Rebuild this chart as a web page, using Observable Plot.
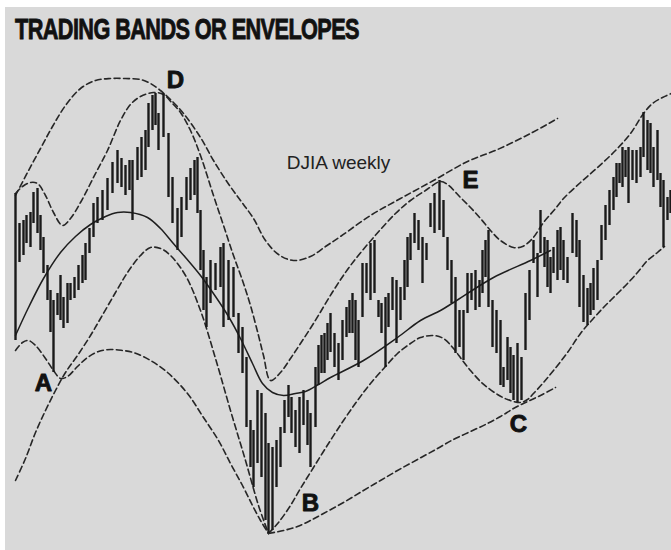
<!DOCTYPE html>
<html>
<head>
<meta charset="utf-8">
<script src="https://cdn.jsdelivr.net/npm/d3@7"></script>
<script src="https://cdn.jsdelivr.net/npm/@observablehq/plot@0.6"></script>
<style>
  html, body { margin: 0; padding: 0; background: #ffffff; }
  body { width: 671px; height: 550px; overflow: hidden; position: relative; }
  #paper { position: absolute; left: 5px; top: 7px; right: 0; bottom: 0; background: #d9d9d9; }
  #title { position: absolute; left: 15px; top: 14px; font-family: "Liberation Sans Narrow", "Liberation Sans", Arial, sans-serif;
           font-weight: bold; font-size: 30px; line-height: 30px; color: #111; white-space: nowrap;
           letter-spacing: -0.8px; transform-origin: 0 0; -webkit-text-stroke: 0.9px #111; }
  #chart { position: absolute; left: 0; top: 50px; }
</style>
</head>
<body>
<div id="paper"></div>
<div id="title">TRADING BANDS OR ENVELOPES</div>
<div id="chart"></div>
<script>
// ---- DJIA weekly bars (week position, weekly high, weekly low) ----
const barWeek = [15,19,23,26,30,33,37,40,43,47,50,53,57,60,63,67,70,74,78,82,85,89,93,97,102,107,112,117,121,125,129,132,137,141,145,148,152,155,158,163,168,172,177,181,186,190,194,197,200,203,206,210,215,220,223,228,233,238,242,246,250,253,257,261,265,268,272,276,280,284,288,291,295,299,303,307,310,315,318,321,324,327,330,334,338,342,346,349,352,355,358,362,366,370,374,378,381,385,388,392,396,400,404,407,410,414,418,422,426,430,434,439,443,447,451,455,459,463,467,471,475,479,482,485,488,492,496,500,503,507,510,513,517,521,525,529,533,537,540,544,547,550,553,557,560,563,567,572,576,579,583,587,590,593,597,601,605,609,613,616,619,622,625,628,632,636,640,643,647,650,653,657,660,663,667,670];
const barHigh = [357,327,330,335,338,358,362,335,313,285,260,250,257,275,253,267,267,273,285,295,307,322,347,353,360,372,388,400,392,385,390,390,403,413,420,447,455,457,437,457,417,373,342,353,373,382,390,393,340,300,273,290,287,303,307,290,283,237,223,193,130,120,160,157,137,107,103,110,123,150,165,153,140,153,160,150,137,183,205,215,217,227,237,217,207,230,243,250,257,250,230,287,287,307,310,250,247,253,257,273,270,263,290,313,317,337,330,313,307,347,357,370,350,313,290,273,240,240,277,277,280,270,300,310,320,250,240,230,183,213,203,195,207,193,257,280,310,297,340,313,310,293,303,320,323,310,293,337,330,310,275,262,267,282,290,325,345,360,373,387,387,403,400,403,400,400,403,438,430,427,403,420,377,370,353,360];
const barLow  = [210,288,295,307,303,327,317,300,277,250,218,178,235,230,222,227,250,252,260,267,270,297,313,327,330,340,357,367,363,355,360,330,370,373,380,403,420,425,400,413,353,327,300,313,340,350,355,337,280,240,223,247,260,263,223,230,233,197,177,123,83,63,87,73,30,17,20,63,83,117,133,117,103,97,125,105,83,123,165,177,177,190,198,183,170,190,213,217,217,190,183,233,257,250,257,233,217,183,223,240,207,230,250,263,290,307,300,267,290,323,317,320,313,280,247,197,203,190,237,250,240,243,257,273,243,203,197,165,163,170,157,150,148,150,200,230,287,253,297,283,263,257,277,270,280,270,267,297,293,243,228,225,235,240,250,290,310,325,340,353,367,363,373,347,370,367,373,393,380,377,363,370,343,303,330,337];

// ---- trading band curves: [week, level] ----
const upperOuterBand = [[15,355],[27,378],[40,402],[52,424],[65,445],[80,462],[95,470],[110,472],[125,472],[140,471],[150,467],[160,460],[170,451],[183,437],[200,413],[213,390],[227,368],[240,350],[253,332],[265,310],[278,296],[293,290],[310,294],[325,304],[340,314],[370,335],[400,352],[433,370],[467,389],[497,401],[530,417],[557,432]];
const upperInnerBand = [[15,357],[22,364],[30,368],[37,367],[45,355],[53,338],[62,325],[70,332],[80,348],[95,377],[107,400],[120,430],[130,446],[140,454],[153,458],[163,456],[172,447],[180,438],[190,420],[200,395],[213,355],[223,325],[233,295],[243,267],[250,245],[258,215],[263,195],[270,170],[280,178],[290,192],[300,207],[313,227],[333,260],[350,285],[373,313],[395,337],[410,350],[425,360],[440,369],[447,366],[460,353],[470,343],[480,332],[490,320],[500,310],[513,303],[522,304],[532,312],[543,328],[555,342],[563,352],[580,368],[597,383],[615,400],[630,417],[643,437],[652,447],[662,453],[671,457]];
const movingAverage = [[15,215],[28,243],[43,272],[60,298],[75,314],[90,326],[105,334],[117,338],[130,338],[147,333],[160,322],[172,308],[185,293],[200,275],[215,254],[228,234],[240,212],[252,187],[262,167],[272,158],[283,155],[295,157],[305,159],[318,166],[330,173],[363,190],[397,213],[420,230],[440,240],[453,248],[493,273],[530,290],[550,300]];
const lowerBandA = [[15,200],[22,208],[28,210],[35,205],[45,192],[53,180],[60,172],[67,174],[77,184],[87,193],[98,199],[110,201],[122,200],[133,198],[150,190],[167,178],[187,157],[203,133],[218,110],[230,87],[242,65],[252,45],[260,30],[268,17]];
const lowerBandB = [[15,70],[25,92],[35,118],[45,140],[55,160],[65,178],[77,195],[90,215],[100,232],[115,258],[127,278],[140,295],[150,303],[160,302],[170,295],[185,275],[200,240],[215,192],[230,140],[245,90],[258,45],[268,17]];
const lowerInnerRight = [[268,17],[278,28],[290,45],[300,62],[313,83],[328,107],[343,130],[357,150],[370,167],[385,184],[397,197],[410,207],[420,213],[433,215],[443,212],[453,202],[462,190],[470,180],[480,169],[487,163],[497,156],[507,151],[520,148],[527,151],[533,157],[543,168],[553,180],[567,198],[580,217],[592,231],[603,243],[615,255],[627,267],[637,278],[647,290],[657,298],[664,304]];
const lowerOuterRight = [[268,17],[283,20],[297,24],[310,30],[323,37],[343,48],[363,60],[380,70],[397,80],[417,91],[437,102],[453,111],[470,119],[487,127],[500,134],[513,142],[525,148],[540,155],[555,163]];

// ---- annotations ----
const pointLabels = ["A","B","C","D","E"];
const pointWeek   = [43, 310, 518, 175, 470];
const pointLevel  = [167, 47, 126, 470, 370];
const seriesNote = "DJIA weekly";
const seriesNoteWeek = 338, seriesNoteLevel = 388;

const bars = barWeek.map((w, i) => ({week: w, high: barHigh[i], low: barLow[i]}));
const labels = pointLabels.map((t, i) => ({text: t, week: pointWeek[i], level: pointLevel[i]}));

const dashed = {x: d => d[0], y: d => d[1], stroke: "#262626", strokeWidth: 1.6, strokeDasharray: "6,3.5", curve: "catmull-rom"};

const chart = Plot.plot({
  width: 671,
  height: 500,
  margin: 0,
  x: {domain: [0, 671], axis: null},
  y: {domain: [0, 500], axis: null},
  style: {background: "transparent", overflow: "visible"},
  marks: [
    Plot.line(upperOuterBand, dashed),
    Plot.line(upperInnerBand, dashed),
    Plot.line(lowerBandA, dashed),
    Plot.line(lowerBandB, dashed),
    Plot.line(lowerInnerRight, dashed),
    Plot.line(lowerOuterRight, dashed),
    Plot.line(movingAverage, {x: d => d[0], y: d => d[1], stroke: "#1e1e1e", strokeWidth: 1.5, curve: "catmull-rom"}),
    Plot.ruleX(bars, {x: "week", y1: "low", y2: "high", stroke: "#1a1a1a", strokeWidth: 2.4}),
    Plot.text(labels, {x: "week", y: "level", text: "text", fontSize: 24, fontWeight: "bold",
      fontFamily: "'Liberation Sans Narrow', 'Liberation Sans', Arial, sans-serif", fill: "#111",
      stroke: "#111", strokeWidth: 0.9}),
    Plot.text([seriesNote], {x: () => seriesNoteWeek, y: () => seriesNoteLevel, text: d => d, fontSize: 19,
      fontFamily: "'Liberation Sans', Arial, sans-serif", fill: "#222"})
  ]
});
document.getElementById("chart").appendChild(chart);

const title = document.getElementById("title");
const w = title.getBoundingClientRect().width;
title.style.transform = `scaleX(${344 / w})`;
</script>
</body>
</html>
